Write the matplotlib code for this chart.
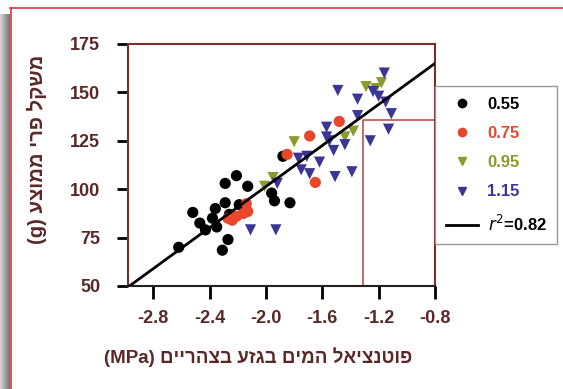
import numpy as np
import matplotlib
matplotlib.use("Agg")
import matplotlib.pyplot as plt
from matplotlib.lines import Line2D

plt.rcParams['font.family'] = ['Liberation Sans', 'DejaVu Sans']
plt.rcParams['axes.unicode_minus'] = False

# ---- data ----
x_055 = [-2.62, -2.52, -2.47, -2.43, -2.36, -2.35, -2.31, -2.29, -2.29, -2.27,
         -2.21, -2.13, -2.19, -1.96, -1.94, -1.83, -1.88, -2.38, -2.26]
y_055 = [70, 88, 82.5, 79, 90, 80.5, 68.5, 93, 103, 74,
         107, 101.5, 92, 98, 94, 93, 117, 85, 87]
x_075 = [-1.69, -1.85, -1.65, -2.27, -2.21, -2.14, -2.16, -2.13, -1.48, -2.24]
y_075 = [127.5, 118, 103.5, 85, 86, 92.5, 87.5, 88.5, 135, 84]
x_095 = [-2.01, -1.95, -1.80, -1.38, -1.44, -1.29, -1.18, -1.22]
y_095 = [101.5, 106, 124.5, 130, 127, 153, 155, 152]
x_115 = [-1.16, -1.49, -1.35, -1.24, -1.20, -1.15, -1.11, -1.35, -1.13, -1.26,
         -1.55, -1.57, -1.57, -1.52, -1.44, -1.77, -1.71, -1.62, -1.75, -1.69,
         -1.51, -1.39, -2.11, -1.93, -1.92]
y_115 = [160, 151, 146.5, 150.5, 148, 145, 139, 138, 131, 125,
         125, 132, 127, 120, 123, 116, 117, 114, 110, 108,
         106.5, 109, 79, 79, 103]
series_labels = ['0.55', '0.75', '0.95', '1.15']
fit_slope = 53.0
fit_intercept = 207.4
fit_label = r'$\mathit{r}^{2}$=0.82'
ref_x = -1.31
ref_y = 136
x_ticks = [-2.8, -2.4, -2.0, -1.6, -1.2, -0.8]
y_ticks = [50, 75, 100, 125, 150, 175]
xlabel = "(MPa) " + "פוטנציאל המים בגזע בצהריים"[::-1]
ylabel = "(g) " + "משקל פרי ממוצע"[::-1]

colors = ['#000000', '#e8472c', '#8c9a2c', '#3b3598']
markers = ['o', 'o', 'v', 'v']
label_color = '#5a2828'
spine_color = '#7a2e2e'

W, H = 563, 389
fig = plt.figure(figsize=(W / 100, H / 100), dpi=100)
fig.patch.set_facecolor('white')

# frame decoration: shadow + red border
sh = fig.add_axes([0, 0, 10 / W, 1 - 14 / H])
grad = np.linspace(0.85, 0.45, 50)[None, :]
sh.imshow(np.repeat(grad, 10, axis=0), cmap='gray', vmin=0, vmax=1,
          aspect='auto', extent=[0, 1, 0, 1])
sh.axis('off')
fig.add_artist(Line2D([10 / W, 1], [1 - 8 / H, 1 - 8 / H], color='#d03a3f',
                      lw=1.2, transform=fig.transFigure))
fig.add_artist(Line2D([11 / W, 11 / W], [0, 1 - 8 / H], color='#d03a3f',
                      lw=1.2, transform=fig.transFigure))

ax = fig.add_axes([128 / W, 1 - 286 / H, (435 - 128) / W, (286 - 44) / H])
ax.set_xlim(-2.98, -0.8)
ax.set_ylim(50, 175)

handles = []
for xs, ys, c, m, lab in zip([x_055, x_075, x_095, x_115],
                             [y_055, y_075, y_095, y_115],
                             colors, markers, series_labels):
    ax.scatter(xs, ys, s=65, c=c, marker=m, edgecolors='none', zorder=3)
    handles.append(Line2D([], [], ls='none', marker=m, color=c, ms=6, label=lab))

fx = np.array([-2.98, -0.8])
ax.plot(fx, fit_slope * fx + fit_intercept, color='black', lw=2, zorder=4)
handles.append(Line2D([], [], color='black', lw=2, label=fit_label))

ax.plot([ref_x, ref_x, -0.8], [50, ref_y, ref_y], color='#c0504d', lw=1.2, zorder=2)

ax.set_xticks(x_ticks)
ax.set_xticklabels([f'{v:.1f}' for v in x_ticks])
ax.set_yticks(y_ticks)
for s in ['top', 'right', 'left']:
    ax.spines[s].set_color(spine_color)
    ax.spines[s].set_linewidth(1.5)
ax.spines['bottom'].set_color('#222222')
ax.spines['bottom'].set_linewidth(1.5)
ax.tick_params(axis='x', length=9, width=2, color='black', pad=8,
               labelsize=13, labelcolor=label_color)
ax.tick_params(axis='y', length=8, width=2, color='black', pad=12,
               labelsize=13, labelcolor=label_color)
for t in ax.get_xticklabels() + ax.get_yticklabels():
    t.set_fontweight('bold')

fig.text(258 / W, 1 - 357 / H, xlabel, ha='center', va='center', fontsize=13.5,
         fontweight='bold', color=label_color)
fig.text(37 / W, 1 - 149 / H, ylabel, ha='center', va='center', fontsize=14.5,
         fontweight='bold', color=label_color, rotation=90)

leg = fig.legend(handles=handles, loc='upper left',
                 bbox_to_anchor=(435 / W, 1 - 86 / H), frameon=True,
                 fancybox=False, edgecolor='#999999', framealpha=1,
                 fontsize=12, labelspacing=0.85, handlelength=1.9,
                 handletextpad=0.6, borderpad=0.65, borderaxespad=0)
for t, c in zip(leg.get_texts(), colors + ['black']):
    t.set_color(c)
    t.set_fontweight('bold')

fig.savefig('out.png', dpi=100)
